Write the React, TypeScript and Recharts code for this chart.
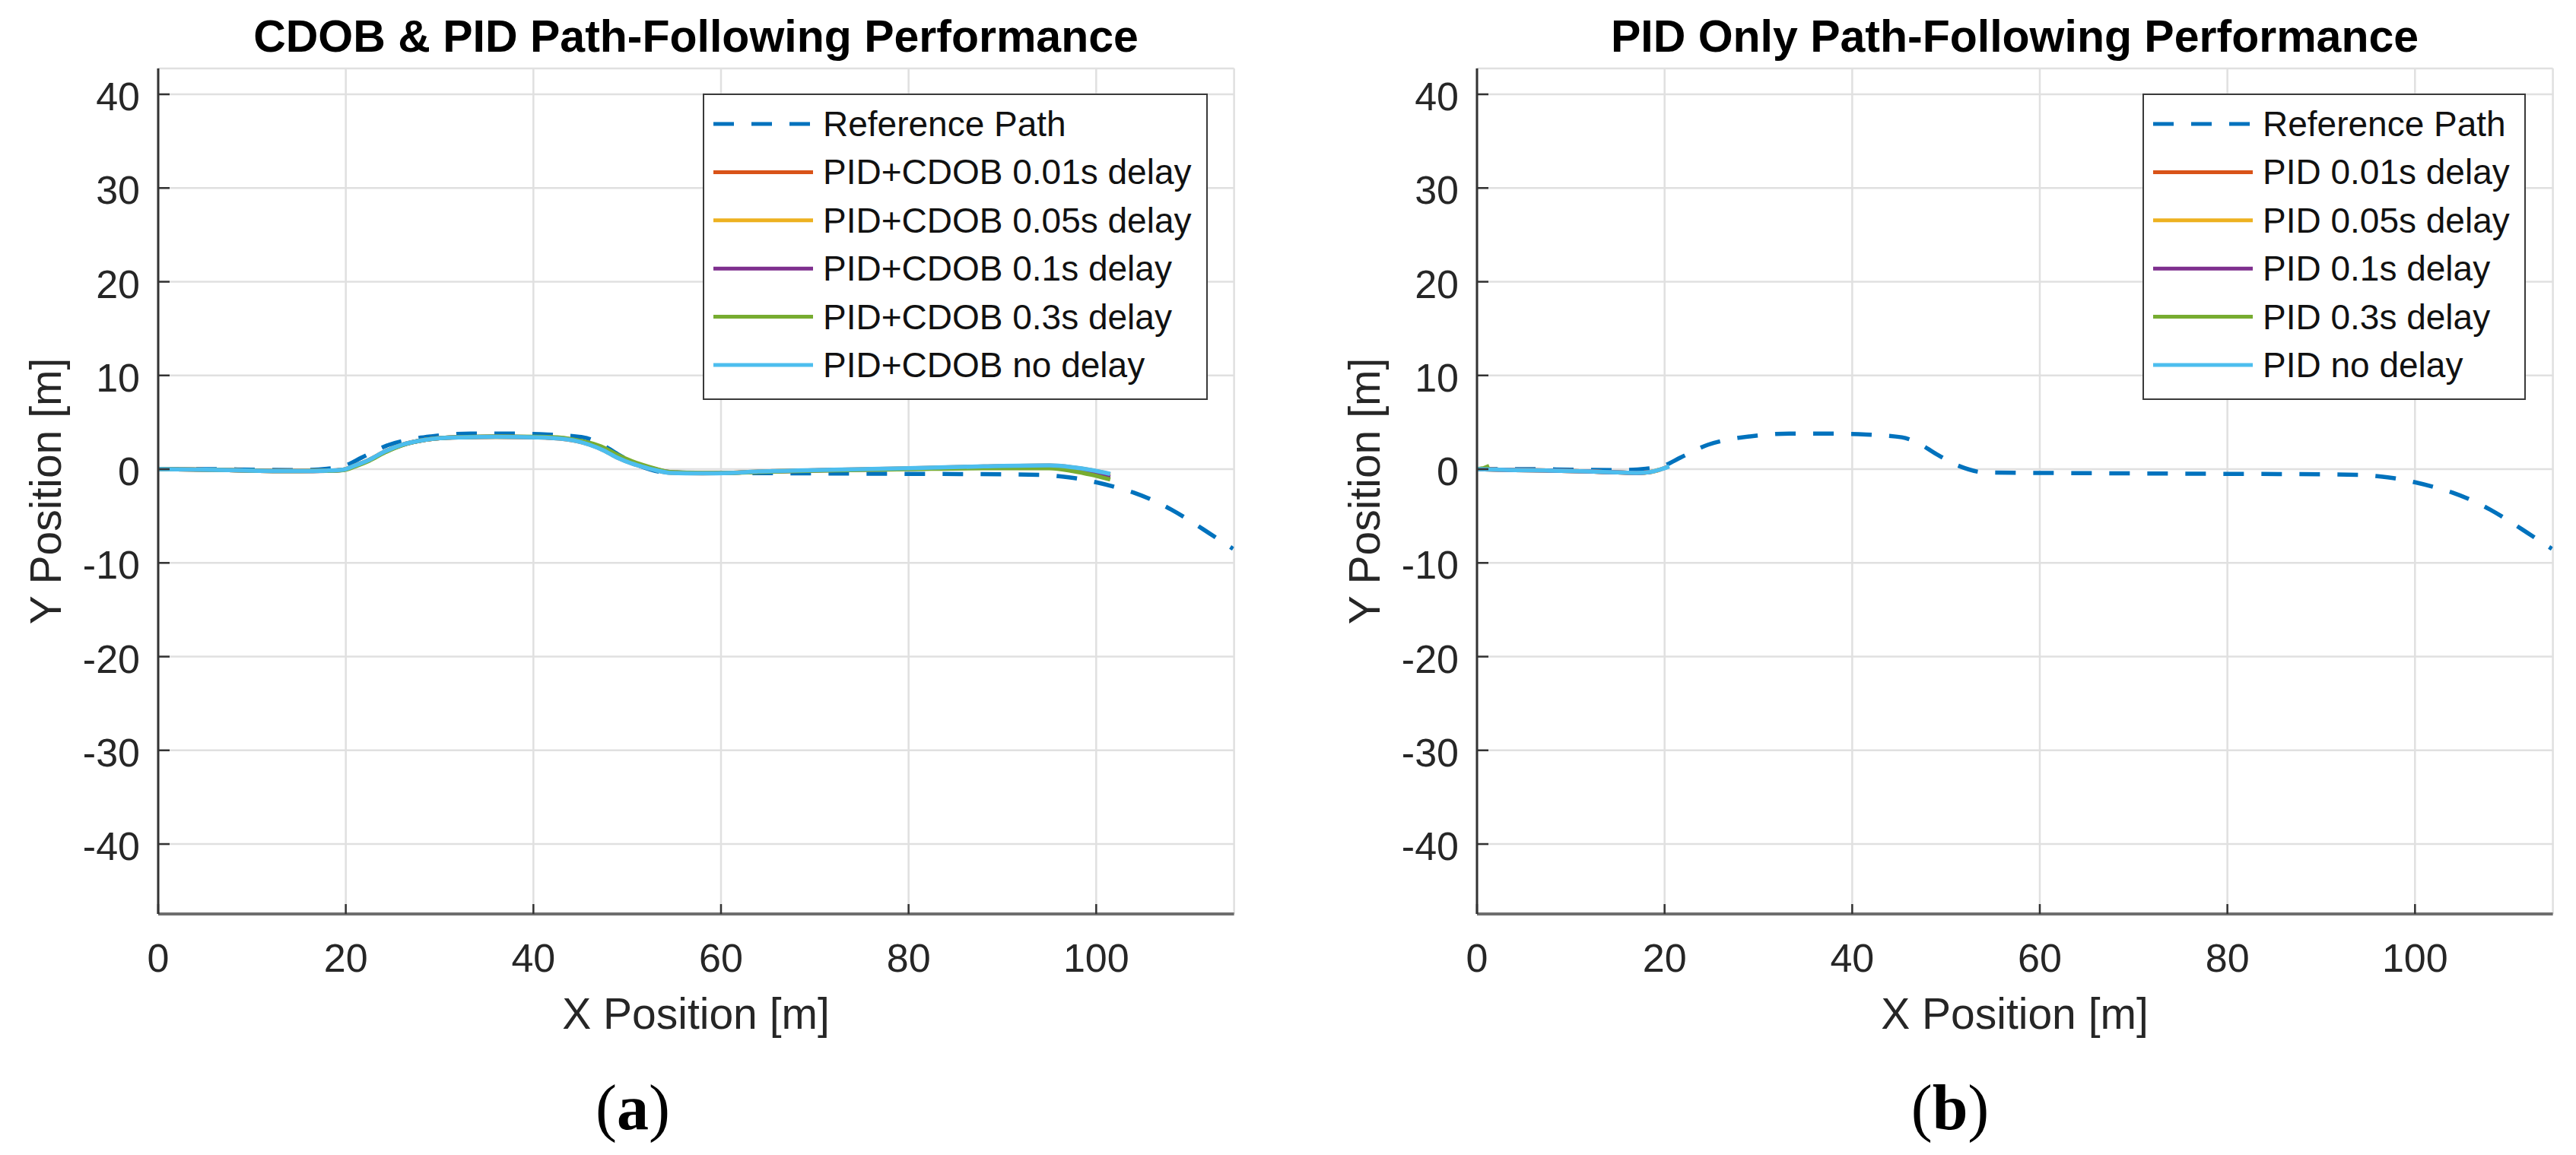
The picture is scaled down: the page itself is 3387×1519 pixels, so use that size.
import React from 'react';
import { LineChart, Line, XAxis, YAxis, CartesianGrid } from 'recharts';

// ---------- axes ----------
const xTicks = [0, 20, 40, 60, 80, 100];
const yTicks = [-40, -30, -20, -10, 0, 10, 20, 30, 40];
const xDomain: [number, number] = [0, 114.7];
const yDomain: [number, number] = [-47.46, 42.76];

// ---------- reference path (same in both panels) ----------
const refX = [0, 5, 10, 15, 18, 20, 21.7, 24.6, 27, 29.1, 33.3, 37.4, 41.5, 45.3, 47, 49, 51.5, 54.2, 60, 70, 80, 90, 94, 96, 98, 100, 102, 104, 106, 108, 110, 112, 114.6];
const refY = [0, 0, -0.05, -0.1, 0.05, 0.4, 1.24, 2.6, 3.2, 3.5, 3.8, 3.8, 3.7, 3.4, 2.8, 1.6, 0.3, -0.35, -0.4, -0.45, -0.5, -0.55, -0.6, -0.75, -1.0, -1.4, -1.9, -2.5, -3.3, -4.3, -5.5, -6.8, -8.5];

// ---------- panel (a): PID + CDOB ----------
const cdobX = [0, 5, 10, 15, 18, 19.7, 21, 22.5, 24.2, 26, 28.3, 30, 32.3, 36, 40.5, 43, 44.6, 46, 47.5, 49, 50.5, 51.5, 53, 54.6, 58, 61, 64, 70, 80, 88, 95, 97.5, 99.5, 101.5];
const cdob001Y = [0, -0.05, -0.15, -0.2, -0.15, -0.05, 0.4, 1.0, 1.9, 2.6, 3.1, 3.3, 3.4, 3.45, 3.4, 3.25, 3.0, 2.62, 2.02, 1.22, 0.62, 0.32, -0.08, -0.38, -0.44, -0.4, -0.26, -0.12, 0.08, 0.28, 0.38, 0.18, -0.12, -0.55];
const cdob005Y = [0, -0.05, -0.15, -0.2, -0.16, -0.07, 0.37, 0.97, 1.87, 2.58, 3.1, 3.3, 3.41, 3.46, 3.41, 3.28, 3.04, 2.68, 2.1, 1.3, 0.68, 0.37, -0.04, -0.35, -0.43, -0.4, -0.27, -0.13, 0.06, 0.24, 0.32, 0.1, -0.25, -0.7];
const cdob01Y = [0, -0.05, -0.15, -0.2, -0.17, -0.08, 0.35, 0.95, 1.85, 2.57, 3.1, 3.3, 3.41, 3.47, 3.42, 3.3, 3.06, 2.72, 2.18, 1.38, 0.74, 0.42, 0.0, -0.32, -0.42, -0.4, -0.28, -0.14, 0.04, 0.18, 0.22, -0.02, -0.4, -0.85];
const cdob03Y = [0, -0.05, -0.15, -0.2, -0.18, -0.1, 0.3, 0.9, 1.8, 2.55, 3.1, 3.3, 3.42, 3.5, 3.45, 3.35, 3.1, 2.8, 2.3, 1.5, 0.85, 0.5, 0.05, -0.3, -0.4, -0.4, -0.3, -0.15, 0.0, 0.1, 0.1, -0.2, -0.6, -1.1];
const cdobNoY = [0, -0.05, -0.15, -0.2, -0.15, -0.05, 0.4, 1.0, 1.9, 2.6, 3.1, 3.3, 3.4, 3.45, 3.4, 3.25, 3.0, 2.6, 2.0, 1.2, 0.6, 0.3, -0.1, -0.4, -0.45, -0.4, -0.25, -0.1, 0.1, 0.3, 0.4, 0.2, -0.1, -0.5];

// ---------- panel (b): PID only ----------
const pidNoX = [0, 4, 8, 12, 15, 17, 18.5, 19.5, 20.5];
const pidNoY = [0, -0.1, -0.15, -0.25, -0.35, -0.4, -0.3, -0.05, 0.3];
const pid001X = [0, 4, 8, 12, 15, 17, 18.5, 19.5, 20.3];
const pid001Y = [0, -0.1, -0.15, -0.25, -0.35, -0.4, -0.3, -0.05, 0.25];
const pid005X = [0, 4, 8, 12, 15, 17, 18.5, 19.5];
const pid005Y = [0, -0.1, -0.15, -0.25, -0.35, -0.4, -0.3, -0.05];
const pid01X = [0, 4, 8, 12, 15, 17, 18.5];
const pid01Y = [0, -0.1, -0.15, -0.25, -0.35, -0.4, -0.3];
const pid03X = [0, 0.7, 1.3];
const pid03Y = [0, 0.1, 0.35];

// ---------- legend labels / colours ----------
const refName = 'Reference Path';
const leftNames = ['PID+CDOB 0.01s delay', 'PID+CDOB 0.05s delay', 'PID+CDOB 0.1s delay', 'PID+CDOB 0.3s delay', 'PID+CDOB no delay'];
const rightNames = ['PID 0.01s delay', 'PID 0.05s delay', 'PID 0.1s delay', 'PID 0.3s delay', 'PID no delay'];
const colors = ['#D95319', '#EDB120', '#7E2F8E', '#77AC30', '#4DBEEE'];
const refColor = '#0072BD';

const zip = (xs: number[], ys: number[]) => xs.map((x, i) => ({ x, y: ys[i] }));

const refData = zip(refX, refY);
const leftData = [zip(cdobX, cdob001Y), zip(cdobX, cdob005Y), zip(cdobX, cdob01Y), zip(cdobX, cdob03Y), zip(cdobX, cdobNoY)];
const rightData = [zip(pid001X, pid001Y), zip(pid005X, pid005Y), zip(pid01X, pid01Y), zip(pid03X, pid03Y), zip(pidNoX, pidNoY)];

const FONT = '"Liberation Sans", Arial, Helvetica, sans-serif';
const SERIF = '"Liberation Serif", "Times New Roman", serif';

const XTick = (props: any) => {
  const { x, y, payload } = props;
  return (
    <g>
      <line x1={x} x2={x} y1={y} y2={y - 13} stroke="#333" strokeWidth={2.5} />
      <text x={x} y={y + 76} textAnchor="middle" fontSize={52} fill="#262626" fontFamily={FONT}>
        {payload.value}
      </text>
    </g>
  );
};

const YTick = (props: any) => {
  const { x, y, payload } = props;
  return (
    <g>
      <line x1={x} x2={x + 15} y1={y} y2={y} stroke="#333" strokeWidth={2.5} />
      <text x={x - 24} y={y + 21} textAnchor="end" fontSize={52} fill="#262626" fontFamily={FONT}>
        {payload.value}
      </text>
    </g>
  );
};

const Panel = ({ data, marginLeft, marginRight, width }: { data: { x: number; y: number }[][]; marginLeft: number; marginRight: number; width: number }) => (
  <LineChart width={width} height={1519} margin={{ top: 90, right: marginRight, bottom: 217, left: marginLeft }}>
    <CartesianGrid stroke="#e0e0e0" strokeWidth={2.5} />
    <XAxis
      type="number"
      dataKey="x"
      domain={xDomain}
      ticks={xTicks}
      allowDataOverflow
      height={100}
      tickSize={0}
      tickMargin={0}
      tickLine={false}
      axisLine={{ stroke: '#6e6e6e', strokeWidth: 4 }}
      tick={<XTick />}
      interval={0}
    />
    <YAxis
      type="number"
      dataKey="y"
      domain={yDomain}
      ticks={yTicks}
      allowDataOverflow
      width={120}
      tickSize={0}
      tickMargin={0}
      tickLine={false}
      axisLine={{ stroke: '#333', strokeWidth: 3 }}
      tick={<YTick />}
      interval={0}
    />
    <Line data={refData} dataKey="y" type="monotone" stroke={refColor} strokeWidth={5.5} strokeDasharray="27 23" dot={false} activeDot={false} isAnimationActive={false} />
    {data.map((d, i) => (
      <Line key={i} data={d} dataKey="y" type={d.length > 3 ? 'monotone' : 'linear'} stroke={colors[i]} strokeWidth={5.5} dot={false} activeDot={false} isAnimationActive={false} />
    ))}
  </LineChart>
);

const LegendBox = ({ left, width, names }: { left: number; width: number; names: string[] }) => {
  const top = 124;
  const rowH = 63.4;
  const first = 163;
  const items = [{ name: refName, color: refColor, dash: true }, ...names.map((n, i) => ({ name: n, color: colors[i], dash: false }))];
  return (
    <g>
      <rect x={left} y={top} width={width} height={401} fill="#fff" stroke="#3a3a3a" strokeWidth={2} />
      {items.map((it, i) => {
        const cy = first + i * rowH;
        return (
          <g key={i}>
            <line x1={left + 13} x2={left + 144} y1={cy} y2={cy} stroke={it.color} strokeWidth={5} strokeDasharray={it.dash ? '27 23' : undefined} />
            <text x={left + 157} y={cy + 16} fontSize={46} fill="#111" fontFamily={FONT}>
              {it.name}
            </text>
          </g>
        );
      })}
    </g>
  );
};

export default function App() {
  return (
    <div style={{ position: 'absolute', left: 0, top: 0, width: 3387, height: 1519, background: '#fff', overflow: 'hidden' }}>
      <div style={{ position: 'absolute', left: 0, top: 0 }}>
        <Panel data={leftData} width={1693} marginLeft={88} marginRight={70.4} />
      </div>
      <div style={{ position: 'absolute', left: 1693, top: 0 }}>
        <Panel data={rightData} width={1694} marginLeft={129} marginRight={30.4} />
      </div>
      <svg width={3387} height={1519} style={{ position: 'absolute', left: 0, top: 0, pointerEvents: 'none' }}>
        <text x={915} y={68} textAnchor="middle" fontSize={59} fontWeight="bold" fill="#000" fontFamily={FONT}>
          CDOB &amp; PID Path-Following Performance
        </text>
        <text x={2649} y={68} textAnchor="middle" fontSize={59} fontWeight="bold" fill="#000" fontFamily={FONT}>
          PID Only Path-Following Performance
        </text>
        <text x={915} y={1353} textAnchor="middle" fontSize={57} fill="#262626" fontFamily={FONT}>X Position [m]</text>
        <text x={2649} y={1353} textAnchor="middle" fontSize={57} fill="#262626" fontFamily={FONT}>X Position [m]</text>
        <text transform="translate(80,646) rotate(-90)" textAnchor="middle" fontSize={57} fill="#262626" fontFamily={FONT}>Y Position [m]</text>
        <text transform="translate(1814,646) rotate(-90)" textAnchor="middle" fontSize={57} fill="#262626" fontFamily={FONT}>Y Position [m]</text>
        <LegendBox left={925} width={662} names={leftNames} />
        <LegendBox left={2818} width={502} names={rightNames} />
        <text x={832} y={1485} textAnchor="middle" fontSize={84} fill="#000" fontFamily={SERIF}>
          (<tspan fontWeight="bold">a</tspan>)
        </text>
        <text x={2564} y={1485} textAnchor="middle" fontSize={84} fill="#000" fontFamily={SERIF}>
          (<tspan fontWeight="bold">b</tspan>)
        </text>
      </svg>
    </div>
  );
}
